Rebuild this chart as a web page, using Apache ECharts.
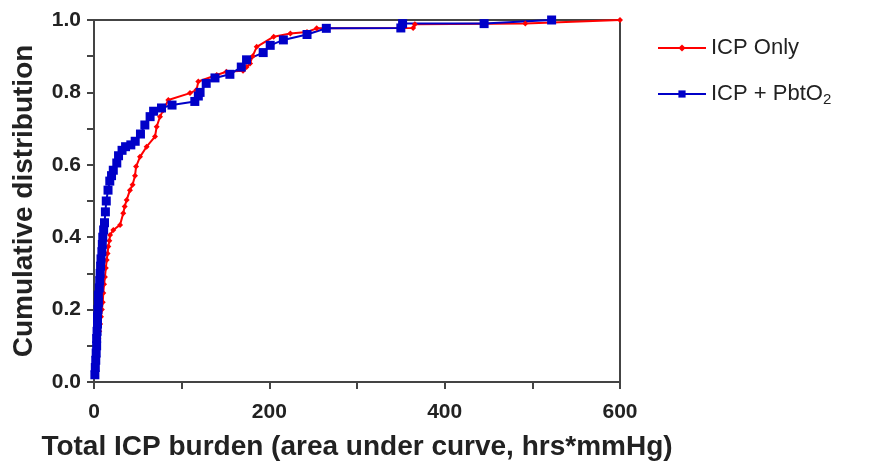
<!DOCTYPE html>
<html>
<head>
<meta charset="utf-8">
<script src="https://cdn.jsdelivr.net/npm/echarts@6/dist/echarts.min.js"></script>
<style>
  html, body { margin: 0; padding: 0; background: #fff; }
  #chart { width: 869px; height: 468px; }
</style>
</head>
<body>
<div id="chart"></div>
<script>
// ICP Only (red) - cumulative distribution points
var redX = [1.5, 2, 3, 3.5, 4, 5, 6, 7, 8, 9, 10, 10.6, 11.5, 12.5, 13.5, 14.5, 15.5, 16.3, 17.5, 18.3,
  22, 29.7, 33.4, 35, 37.3, 41, 44, 46.8, 48, 52.5, 60, 69.6, 71.5, 75.3, 79, 84.8, 109.5, 117, 119, 140,
  151, 170, 174, 178, 181, 185.6, 205, 224, 243, 254, 364, 366, 492, 600];
var redY = [0.02, 0.04, 0.06, 0.08, 0.10, 0.12, 0.14, 0.16, 0.18, 0.20, 0.22, 0.246, 0.27, 0.29, 0.315, 0.337, 0.355, 0.374, 0.39, 0.406,
  0.42, 0.434, 0.466, 0.485, 0.503, 0.53, 0.545, 0.57, 0.595, 0.622, 0.65, 0.678, 0.705, 0.733, 0.751, 0.779, 0.798, 0.807, 0.83, 0.848,
  0.857, 0.86, 0.87, 0.88, 0.90, 0.926, 0.954, 0.963, 0.967, 0.977, 0.978, 0.988, 0.99, 1.0];

// ICP + PbtO2 (blue)
var blueX = [1, 1.5, 2, 2.5, 3, 3, 3.5, 4, 4, 4.5, 5, 5, 6, 6.5, 7, 7.5, 8, 9, 9.5, 10,
  11, 12, 13, 14, 16, 18, 20, 22, 26, 28, 32, 36, 42, 47, 53, 58, 64, 68, 77, 89,
  115, 119, 121, 128, 138, 155, 168, 174, 193, 201, 216, 243, 265, 350, 352, 445, 522];
var blueY = [0.02, 0.04, 0.06, 0.08, 0.10, 0.12, 0.14, 0.16, 0.18, 0.20, 0.22, 0.24, 0.26, 0.28, 0.30, 0.32, 0.34, 0.36, 0.38, 0.40,
  0.42, 0.44, 0.47, 0.50, 0.53, 0.555, 0.57, 0.585, 0.605, 0.625, 0.64, 0.65, 0.655, 0.665, 0.685, 0.71, 0.733, 0.748, 0.757, 0.765,
  0.775, 0.79, 0.80, 0.825, 0.84, 0.85, 0.87, 0.89, 0.91, 0.93, 0.945, 0.96, 0.977, 0.978, 0.99, 0.99, 1.0];

var seriesNames = ['ICP Only', 'ICP + PbtO2'];

function pairs(xs, ys) {
  return xs.map(function (x, i) { return [x, ys[i]]; });
}

var chart = echarts.init(document.getElementById('chart'));
var axisColor = '#444';
var font = 'Liberation Sans, Arial, sans-serif';

chart.setOption({
  animation: false,
  textStyle: { fontFamily: font },
  grid: {
    left: 94, right: 249, top: 20, bottom: 86,
    outerBoundsMode: 'none',
    containLabel: false,
    show: true,
    borderColor: axisColor,
    borderWidth: 2
  },
  legend: {
    orient: 'vertical',
    left: 652,
    top: 32,
    itemWidth: 48,
    itemHeight: 9,
    itemGap: 24,
    data: seriesNames,
    formatter: function (name) {
      if (name === 'ICP + PbtO2') return '{t|ICP + PbtO}{s|2}';
      return '{t|' + name + '}';
    },
    textStyle: {
      rich: {
        t: { fontSize: 22, color: '#222', fontFamily: font },
        s: { fontSize: 15, color: '#222', fontFamily: font, verticalAlign: 'bottom', padding: [12, 0, 0, 0] }
      }
    }
  },
  xAxis: {
    type: 'value',
    min: 0,
    max: 600,
    interval: 200,
    name: 'Total ICP burden (area under curve, hrs*mmHg)',
    nameLocation: 'middle',
    nameGap: 51,
    nameTextStyle: { fontSize: 28, fontWeight: 'bold', color: '#222' },
    axisLine: { lineStyle: { color: axisColor, width: 2 } },
    axisTick: { length: 7, lineStyle: { width: 2, color: axisColor } },
    minorTick: { show: true, splitNumber: 2, length: 7, lineStyle: { width: 2, color: axisColor } },
    splitLine: { show: false },
    axisLabel: { fontSize: 21, fontWeight: 'bold', color: '#222', margin: 20 }
  },
  yAxis: {
    type: 'value',
    min: 0,
    max: 1,
    interval: 0.2,
    name: 'Cumulative distribution',
    nameLocation: 'middle',
    nameGap: 56,
    nameTextStyle: { fontSize: 28, fontWeight: 'bold', color: '#222' },
    axisLine: { lineStyle: { color: axisColor, width: 2 } },
    axisTick: { length: 7, lineStyle: { width: 2, color: axisColor } },
    minorTick: { show: true, splitNumber: 2, length: 7, lineStyle: { width: 2, color: axisColor } },
    splitLine: { show: false },
    axisLabel: {
      fontSize: 21, fontWeight: 'bold', color: '#222', margin: 13,
      formatter: function (v) { return v.toFixed(1); }
    }
  },
  series: [
    {
      name: seriesNames[0],
      type: 'line',
      data: pairs(redX, redY),
      symbol: 'diamond',
      symbolSize: 6,
      showAllSymbol: true,
      color: '#ff0000',
      lineStyle: { width: 2, color: '#ff0000' },
      itemStyle: { color: '#ff0000' }
    },
    {
      name: seriesNames[1],
      type: 'line',
      data: pairs(blueX, blueY),
      symbol: 'rect',
      symbolSize: 9,
      showAllSymbol: true,
      color: '#0000c8',
      lineStyle: { width: 2, color: '#0000c8' },
      itemStyle: { color: '#0000c8' }
    }
  ]
});
</script>
</body>
</html>
